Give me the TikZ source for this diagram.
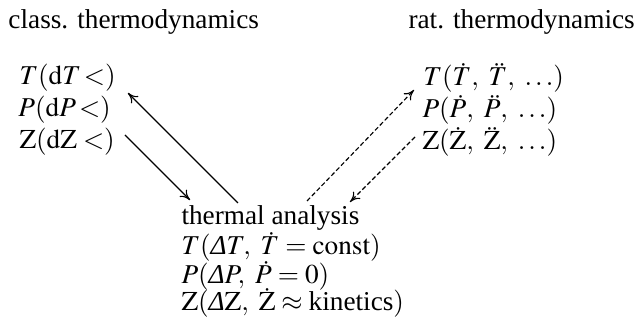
\documentclass[tikz,border=0pt]{standalone}
\usepackage{mathptmx}
\usepackage{fontspec}
\setmainfont{Liberation Serif}
\usetikzlibrary{arrows.meta}

\begin{document}
\begin{tikzpicture}[x=0.4pt,y=-0.4pt,
  lbl/.style={anchor=base west,inner sep=0pt,font=\fontsize{10.9}{13}\selectfont},
  flow/.style={line width=0.45pt,-{To[length=4pt,width=4pt]}},
  dflow/.style={flow,dash pattern=on 1.8pt off 1pt}]
\useasboundingbox (0,0) rectangle (639,324);
% headings
\node[lbl] (ct) at (8,29) {class. thermodynamics};
\node[lbl] (rt) at (408,29) {rat. thermodynamics};
% classical
\node[lbl] (lT) at (19,85) {$T(\mathrm{d}T\!<)$};
\node[lbl] (lP) at (18,117) {$P(\mathrm{d}P\!<)$};
\node[lbl] (lZ) at (19,149) {$\mathrm{Z}(\mathrm{dZ}<)$};
% rational
\node[lbl] (rT) at (423,86) {$T(\dot{T},\ \ddot{T},\ \ldots)$};
\node[lbl] (rP) at (422,118) {$P(\dot{P},\ \ddot{P},\ \ldots)$};
\node[lbl] (rZ) at (422,150) {$\mathrm{Z}(\dot{\mathrm{Z}},\ \ddot{\mathrm{Z}},\ \ldots)$};
% thermal analysis
\node[lbl] (ta) at (181,225) {thermal analysis};
\node[lbl] (tT) at (181,255) {$T(\mbox{\itshape Δ}T,\ \dot{T}=\mathrm{const})$};
\node[lbl] (tP) at (181,284) {$P(\mbox{\itshape Δ}P,\ \dot{P}=0)$};
\node[lbl] (tZ) at (181,311) {$\mathrm{Z}(\mbox{\itshape Δ}\mathrm{Z},\ \dot{\mathrm{Z}}\approx\mbox{kinetics})$};
% connector ends
\coordinate (a1) at (125,135);
\coordinate (b1) at (190,200);
\coordinate (a2) at (238,203);
\coordinate (b2) at (128,93);
\coordinate (a3) at (307,201);
\coordinate (b3) at (414,90);
\coordinate (a4) at (415,137);
\coordinate (b4) at (350,202);
\draw[flow] (a1)--(b1);
\draw[flow] (a2)--(b2);
\draw[dflow] (a3)--(b3);
\draw[dflow] (a4)--(b4);
\end{tikzpicture}
\end{document}
